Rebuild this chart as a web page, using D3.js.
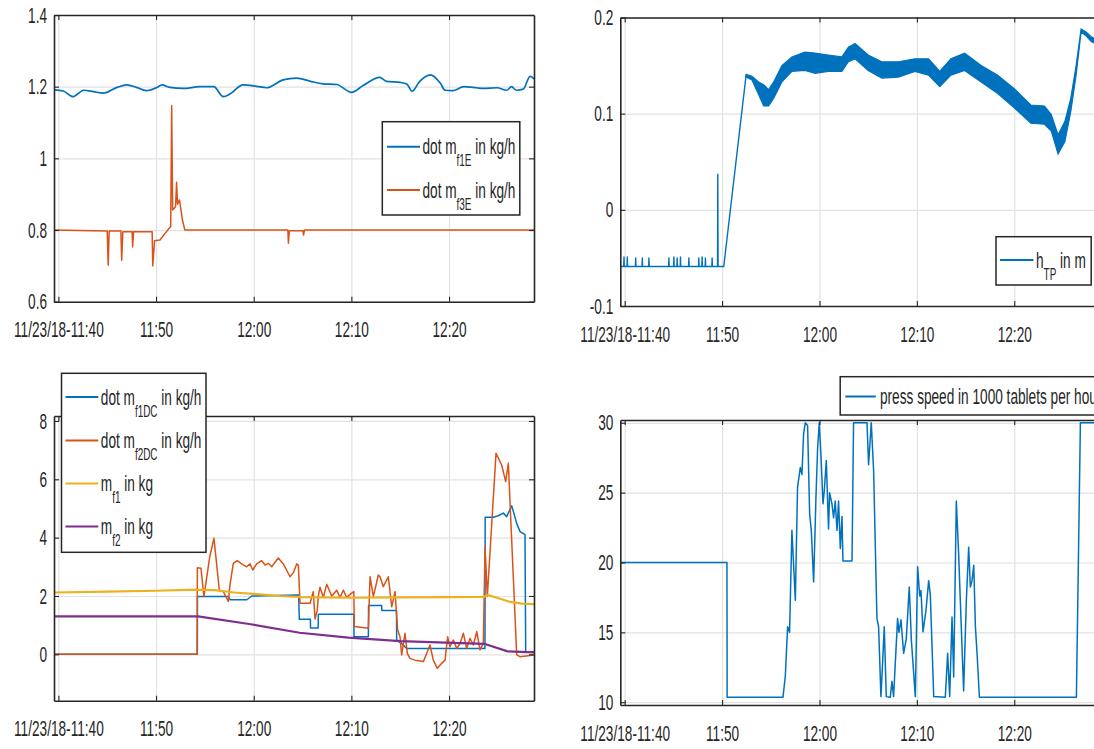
<!DOCTYPE html>
<html><head><meta charset="utf-8">
<script src="https://cdn.jsdelivr.net/npm/d3@7"></script>
<style>body{margin:0;background:#fff}svg{display:block}</style>
</head><body><svg id="c" width="1094" height="749"></svg>
<script>
// ---------- shared time axis (minutes after 11/23/18 11:40) ----------
const timeDomain = [-0.45, 48.7];
const xTickValues = [0, 10, 20, 30, 40];
const xTickLabels = ["11/23/18-11:40", "11:50", "12:00", "12:10", "12:20"];

// ---------- panel 1: dot m_f1E, dot m_f3E ----------
const p1YTicks = [0.6, 0.8, 1, 1.2, 1.4];
const p1YLabels = ["0.6", "0.8", "1", "1.2", "1.4"];
const mf1E = [[-0.45,1.191],[0.5,1.188],[1.5,1.172],[2.6,1.19],[3.6,1.186],[4.6,1.182],[6.0,1.198],[7.0,1.205],[8.0,1.198],[9.0,1.189],[10.1,1.198],[10.6,1.205],[11.4,1.198],[12.8,1.195],[14.5,1.2],[15.9,1.2],[16.9,1.172],[17.6,1.18],[18.9,1.205],[20.3,1.201],[21.3,1.197],[23.0,1.219],[24.4,1.224],[25.8,1.215],[27.1,1.208],[28.5,1.206],[30.0,1.184],[31.2,1.203],[32.9,1.226],[33.6,1.215],[35.0,1.212],[35.7,1.207],[36.2,1.187],[37.0,1.215],[38.1,1.233],[39.1,1.21],[39.6,1.19],[40.4,1.189],[41.5,1.2],[42.8,1.197],[43.5,1.195],[44.9,1.197],[45.9,1.19],[46.4,1.2],[46.9,1.19],[47.6,1.193],[48.3,1.229],[48.7,1.222]];
const mf3E = [[-0.45,0.8],[5.0,0.797],[5.1,0.702],[5.2,0.797],[6.4,0.797],[6.48,0.716],[6.6,0.795],[7.55,0.795],[7.6,0.753],[7.7,0.795],[9.6,0.795],[9.66,0.70],[9.85,0.77],[10.4,0.772],[10.9,0.79],[11.5,0.81],[11.6,1.147],[11.7,0.856],[12.0,0.865],[12.1,0.933],[12.2,0.872],[12.4,0.884],[12.7,0.828],[12.95,0.8],[23.5,0.8],[23.55,0.763],[23.65,0.798],[25.05,0.798],[25.1,0.786],[25.2,0.8],[48.7,0.8]];

// ---------- panel 2: h_TP ----------
const p2YTicks = [-0.1, 0, 0.1, 0.2];
const p2YLabels = ["-0.1", "0", "0.1", "0.2"];
const hTPstart = [[-0.45,-0.059],[-0.1,-0.059],[-0.07,-0.049],[-0.04,-0.059],[0.24,-0.059],[0.27,-0.049],[0.3,-0.059],[1.1,-0.059],[1.13,-0.05],[1.16,-0.059],[1.78,-0.059],[1.81,-0.05],[1.84,-0.059],[2.46,-0.059],[2.49,-0.05],[2.52,-0.059],[4.51,-0.059],[4.54,-0.05],[4.57,-0.059],[5.02,-0.059],[5.05,-0.049],[5.08,-0.059],[5.36,-0.059],[5.39,-0.05],[5.42,-0.059],[5.7,-0.059],[5.73,-0.049],[5.76,-0.059],[6.56,-0.059],[6.59,-0.05],[6.62,-0.059],[7.58,-0.059],[7.61,-0.05],[7.64,-0.059],[7.92,-0.059],[7.95,-0.049],[7.98,-0.059],[8.26,-0.059],[8.29,-0.05],[8.32,-0.059],[8.95,-0.059],[8.98,-0.05],[9.01,-0.059],[9.53,-0.059],[9.56,0.037],[9.59,-0.059],[10.17,-0.059],[12.46,0.1395]];
// noisy band after the ramp: [time, upper, lower]
const hTPband = [[12.46,0.141,0.138],[13.07,0.139,0.135],[13.75,0.133,0.12],[14.27,0.13,0.108],[14.78,0.125,0.108],[15.3,0.133,0.116],[16.14,0.15,0.133],[17.17,0.159,0.144],[18.5,0.164,0.145],[19.56,0.163,0.142],[20.9,0.161,0.144],[22.3,0.159,0.144],[22.97,0.169,0.154],[23.65,0.173,0.157],[25.0,0.161,0.145],[26.4,0.154,0.137],[28.1,0.154,0.138],[29.8,0.157,0.144],[31.2,0.157,0.14],[32.35,0.144,0.128],[33.5,0.157,0.14],[34.9,0.163,0.145],[36.6,0.15,0.133],[38.3,0.14,0.121],[40.0,0.126,0.106],[41.7,0.109,0.09],[43.1,0.108,0.089],[43.8,0.099,0.082],[44.5,0.078,0.058],[45.2,0.092,0.071],[45.8,0.116,0.102],[46.35,0.15,0.14],[46.86,0.188,0.185],[47.37,0.185,0.181],[47.9,0.18,0.175],[48.7,0.176,0.171]];

// ---------- panel 3: dot m_f1DC, dot m_f2DC, m_f1, m_f2 ----------
const p3YTicks = [0, 2, 4, 6, 8];
const p3YLabels = ["0", "2", "4", "6", "8"];
const mf1DC = [[-0.45,0],[14.23,0],[14.24,1.98],[17.4,1.98],[17.6,1.87],[19.3,1.87],[19.8,2.0],[24.6,2.03],[24.67,1.2],[25.8,1.2],[25.82,0.9],[26.6,0.9],[26.62,1.37],[30.25,1.37],[30.27,0.6],[31.74,0.6],[31.76,1.67],[33.1,1.67],[33.12,1.5],[34.62,1.5],[34.64,0.49],[35.15,0.37],[35.66,0.2],[43.68,0.2],[43.7,4.7],[44.54,4.7],[45.05,4.75],[45.56,4.84],[45.9,4.72],[46.42,5.09],[46.93,4.49],[47.27,4.21],[47.78,4.1],[47.85,0.09],[48.7,0.09]];
const mf2DC = [[-0.45,0],[14.2,0],[14.23,2.97],[14.6,2.95],[14.9,1.98],[15.5,3.35],[15.93,3.98],[16.48,2.2],[16.89,2.15],[17.4,1.81],[17.57,2.38],[17.91,3.12],[18.32,3.21],[18.77,3.1],[19.28,3.0],[19.62,3.1],[19.9,2.89],[20.3,3.1],[20.82,3.21],[21.16,3.06],[21.5,3.12],[21.84,3.0],[22.52,3.3],[23.03,3.1],[23.72,2.66],[24.06,2.8],[24.4,3.1],[24.57,3.06],[24.74,1.75],[25.77,1.75],[26.1,2.15],[26.28,1.21],[26.5,1.5],[26.62,2.0],[26.79,2.3],[27.13,1.95],[27.47,2.4],[27.99,2.0],[28.5,2.2],[28.84,1.95],[29.18,2.2],[29.52,1.95],[30.03,2.1],[30.25,2.15],[30.3,0.95],[31.74,0.89],[31.91,2.66],[32.25,1.98],[32.76,2.72],[32.93,2.66],[33.27,2.32],[33.78,2.66],[34.13,1.63],[34.47,2.15],[34.74,0.83],[34.98,0.6],[35.15,-0.02],[35.49,0.72],[35.73,0.03],[36.0,-0.14],[36.52,-0.2],[37.37,-0.25],[37.71,0.03],[38.05,0.32],[38.39,-0.2],[38.8,-0.48],[39.25,-0.31],[39.59,-0.2],[39.86,0.6],[40.1,0.26],[40.44,0.49],[40.79,0.2],[41.13,0.37],[41.47,0.72],[41.81,0.2],[42.15,0.55],[42.49,0.32],[42.84,0.78],[43.17,0.15],[43.51,0.37],[43.69,3.69],[43.92,1.98],[44.81,6.89],[45.39,6.49],[45.8,5.92],[46.07,6.55],[46.93,-0.02],[47.27,-0.08],[48.7,-0.02]];
const mf1 = [[-0.45,2.12],[5,2.15],[10,2.18],[14,2.22],[16,2.2],[18,2.12],[20,2.07],[22.7,2.0],[25,1.96],[30,1.94],[35,1.95],[40,1.96],[43.5,1.97],[44.0,2.03],[45,1.93],[46.2,1.8],[47.5,1.74],[48.7,1.72]];
const mf2 = [[-0.45,1.3],[14.3,1.3],[19.7,1.03],[24.7,0.74],[29.7,0.57],[35,0.45],[43.6,0.36],[46.0,0.1],[48.7,0.07]];

// ---------- panel 4: press speed ----------
const p4YTicks = [10, 15, 20, 25, 30];
const p4YLabels = ["10", "15", "20", "25", "30"];
const pressSpeed = [[-0.45,20],[10.5,20],[10.52,10.35],[16.25,10.35],[16.49,11.84],[16.73,15.4],[16.93,15.0],[17.17,22.3],[17.52,17.3],[17.75,25.4],[18.03,26.8],[18.2,26.3],[18.37,29.2],[18.54,30],[18.78,29.8],[18.99,23.5],[19.16,22.3],[19.4,18.6],[19.64,24.7],[19.81,28.2],[19.98,30],[20.15,27.7],[20.36,24.2],[20.49,25.1],[20.7,27.3],[20.93,22.4],[21.04,25.0],[21.28,24.2],[21.45,23.2],[21.62,24.4],[21.8,22.3],[21.96,24.4],[22.14,21.0],[22.31,23.3],[22.41,20.1],[23.34,20.1],[23.5,30],[24.88,30],[25.04,27.0],[25.32,30],[25.56,26.55],[25.9,16.0],[26.07,15.4],[26.31,10.4],[26.48,12.8],[26.65,15.4],[26.86,10.4],[27.27,10.35],[27.44,11.5],[27.61,10.4],[28.02,16.0],[28.16,15.0],[28.37,15.9],[28.64,13.5],[28.91,14.5],[29.22,18.25],[29.43,14.5],[29.84,10.4],[30.08,19.7],[30.29,17.6],[30.42,18.0],[30.63,15.04],[30.94,16.6],[31.21,18.7],[31.38,17.7],[31.73,10.4],[32.92,10.35],[33.16,13.5],[33.37,10.4],[33.61,16.1],[33.78,11.8],[34.05,24.4],[34.29,20.6],[34.46,17.3],[34.8,10.8],[35.08,17.3],[35.32,21.1],[35.49,18.25],[35.66,18.7],[35.84,19.8],[36.01,15.4],[36.18,13.5],[36.42,10.35],[46.38,10.35],[46.79,30],[48.7,30]];

// ---------- styling ----------
const COL = {blue:"#0072BD", orange:"#D95319", yellow:"#EDB120", purple:"#7E2F8E"};
const INK = "#262626", GRID = "#e2e2e2";
const FONT = '"Liberation Sans", Arial, Helvetica, sans-serif';
const FS = 22, SUBFS = 16, SX = 0.62;

const svg = d3.select("#c");
svg.append("rect").attr("width",1094).attr("height",749).attr("fill","#fff");
const defs = svg.append("defs");

function panel(p){
  const x = d3.scaleLinear().domain(timeDomain).range([p.l, p.r]);
  const y = d3.scaleLinear().domain(p.yDomain).range([p.b, p.t]);
  const W = p.r - p.l, H = p.b - p.t;
  const g = svg.append("g");
  const gridStyle = s => { s.select(".domain").remove(); s.selectAll("line").attr("stroke",GRID).attr("stroke-width",1.2); };
  g.append("g").attr("transform",`translate(0,${p.b})`)
    .call(d3.axisBottom(x).tickValues(xTickValues).tickSize(-H).tickFormat("")).call(gridStyle);
  g.append("g").attr("transform",`translate(${p.l},0)`)
    .call(d3.axisLeft(y).tickValues(p.yTicks).tickSize(-W).tickFormat("")).call(gridStyle);
  defs.append("clipPath").attr("id","clip"+p.id).append("rect")
    .attr("x",p.l).attr("y",p.t).attr("width",W).attr("height",H);
  const dg = g.append("g").attr("clip-path",`url(#clip${p.id})`);
  return {x, y, g, dg};
}

function axes(p, P){
  const {x, y, g} = P;
  const bottom = g.append("g").attr("transform",`translate(0,${p.b})`)
    .call(d3.axisBottom(x).tickValues(xTickValues).tickSizeInner(-5).tickSizeOuter(0).tickPadding(20)
      .tickFormat((d,i)=>xTickLabels[i]));
  const left = g.append("g").attr("transform",`translate(${p.l},0)`)
    .call(d3.axisLeft(y).tickValues(p.yTicks).tickSizeInner(-5).tickSizeOuter(0).tickPadding(7)
      .tickFormat((d,i)=>p.yLabels[i]));
  const top = g.append("g").attr("transform",`translate(0,${p.t})`)
    .call(d3.axisTop(x).tickValues(xTickValues).tickSizeInner(-5).tickSizeOuter(0).tickFormat(""));
  const right = g.append("g").attr("transform",`translate(${p.r},0)`)
    .call(d3.axisRight(y).tickValues(p.yTicks).tickSizeInner(-5).tickSizeOuter(0).tickFormat(""));
  [bottom,left,top,right].forEach(a=>{
    a.attr("font-family",FONT).attr("font-size",FS);
    a.select(".domain").attr("stroke",INK).attr("stroke-width",1.6);
    a.selectAll(".tick line").attr("stroke",INK).attr("stroke-width",1.1);
    a.selectAll(".tick text").attr("fill",INK);
  });
  bottom.selectAll(".tick text").attr("transform",`scale(${SX},1)`);
  left.selectAll(".tick text").attr("x",-7/SX).attr("transform",`scale(${SX},1)`);
}

function line(P, data, color, w, curve){
  P.dg.append("path").datum(data)
    .attr("d", d3.line().curve(curve||d3.curveLinear).x(d=>P.x(d[0])).y(d=>P.y(d[1])))
    .attr("fill","none").attr("stroke",color).attr("stroke-width",w||1.4)
    .attr("stroke-linejoin","round");
}

function legend(L){
  const lg = svg.append("g");
  lg.append("rect").attr("x",L.x).attr("y",L.y).attr("width",L.w).attr("height",L.h)
    .attr("fill","#fff").attr("stroke",INK).attr("stroke-width",1.5);
  L.rows.forEach((e,i)=>{
    const yy = L.rowY[i];
    lg.append("line").attr("x1",L.lx1).attr("x2",L.lx2).attr("y1",yy).attr("y2",yy)
      .attr("stroke",e.color).attr("stroke-width",2);
    const t = lg.append("text")
      .attr("transform",`translate(${L.tx},${yy+7.5}) scale(${SX},1)`)
      .attr("font-family",FONT).attr("font-size",FS).attr("fill",INK);
    t.append("tspan").text(e.main);
    if (e.sub){
      t.append("tspan").attr("font-size",SUBFS).attr("dy",12).text(e.sub);
      t.append("tspan").attr("dy",-12).text(e.rest);
    }
  });
}

// ---------- panel 1 ----------
const cfg1 = {id:1, l:54, r:534, t:15, b:301.7, yDomain:[0.6,1.4], yTicks:p1YTicks, yLabels:p1YLabels};
const P1 = panel(cfg1);
line(P1, mf1E, COL.blue, 1.7, d3.curveMonotoneX);
line(P1, mf3E, COL.orange, 1.5);
axes(cfg1, P1);
legend({x:382.3, y:121.7, w:137.5, h:93.3, lx1:387, lx2:420, tx:422.5, rowY:[146.7,190],
  rows:[{color:COL.blue, main:"dot m", sub:"f1E", rest:" in kg/h"},
        {color:COL.orange, main:"dot m", sub:"f3E", rest:" in kg/h"}]});

// ---------- panel 2 ----------
const cfg2 = {id:2, l:620.3, r:1099, t:17.5, b:306, yDomain:[-0.1,0.2], yTicks:p2YTicks, yLabels:p2YLabels};
const P2 = panel(cfg2);
line(P2, hTPstart, COL.blue, 1.4);
P2.dg.append("path").datum(hTPband)
  .attr("d", d3.area().x(d=>P2.x(d[0])).y0(d=>P2.y(d[2])).y1(d=>P2.y(d[1])))
  .attr("fill",COL.blue).attr("stroke",COL.blue).attr("stroke-width",1.2);
axes(cfg2, P2);
legend({x:996, y:236.7, w:95.2, h:48.3, lx1:1000, lx2:1033.4, tx:1036, rowY:[260],
  rows:[{color:COL.blue, main:"h", sub:"TP", rest:" in m"}]});

// ---------- panel 3 ----------
const cfg3 = {id:3, l:54, r:534, t:416, b:700.7, yDomain:[-1.59,8.17], yTicks:p3YTicks, yLabels:p3YLabels};
const P3 = panel(cfg3);
line(P3, mf1DC, COL.blue, 1.5);
line(P3, mf2DC, COL.orange, 1.5);
line(P3, mf1, COL.yellow, 2.2);
line(P3, mf2, COL.purple, 2.2);
axes(cfg3, P3);
legend({x:61.5, y:373.3, w:144.5, h:179, lx1:65.5, lx2:98.3, tx:100.8, rowY:[397,440.5,483.5,526.5],
  rows:[{color:COL.blue, main:"dot m", sub:"f1DC", rest:" in kg/h"},
        {color:COL.orange, main:"dot m", sub:"f2DC", rest:" in kg/h"},
        {color:COL.yellow, main:"m", sub:"f1", rest:" in kg"},
        {color:COL.purple, main:"m", sub:"f2", rest:" in kg"}]});

// ---------- panel 4 ----------
const cfg4 = {id:4, l:620.3, r:1099, t:420, b:705, yDomain:[9.8,30.2], yTicks:p4YTicks, yLabels:p4YLabels};
const P4 = panel(cfg4);
line(P4, pressSpeed, COL.blue, 1.5);
axes(cfg4, P4);
legend({x:840.2, y:376.7, w:300, h:38.3, lx1:845.3, lx2:875.8, tx:880, rowY:[396.5],
  rows:[{color:COL.blue, main:"press speed in 1000 tablets per hour"}]});
</script></body></html>
